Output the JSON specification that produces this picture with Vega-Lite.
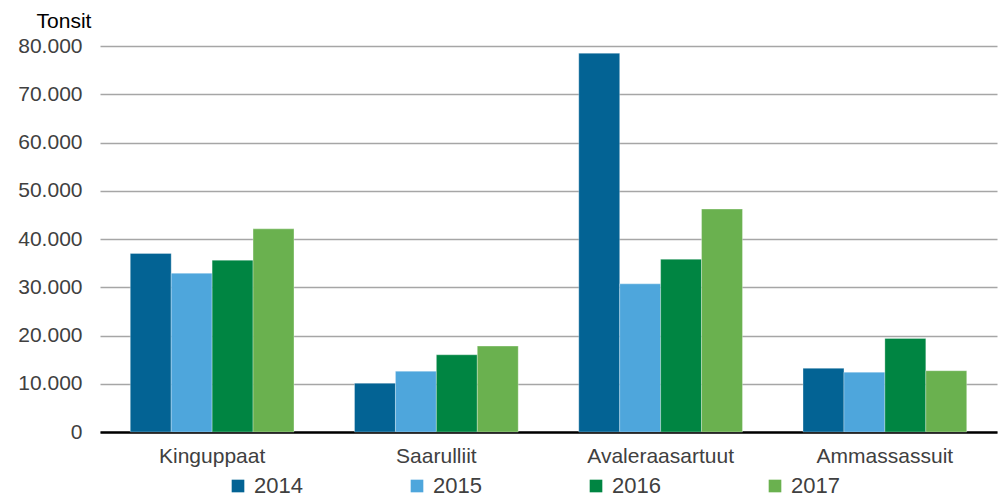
{
  "$schema": "https://vega.github.io/schema/vega-lite/v6.json",
  "width": 897,
  "height": 386,
  "autosize": {"type": "none"},
  "padding": {"left": 100, "top": 46, "right": 5, "bottom": 66},
  "background": "#ffffff",
  "config": {
    "view": {"stroke": null},
    "font": "Liberation Sans"
  },
  "data": {
    "values": [
      {"kategori": "Kinguppaat", "aar": "2014", "tonsit": 37000},
      {"kategori": "Kinguppaat", "aar": "2015", "tonsit": 32900},
      {"kategori": "Kinguppaat", "aar": "2016", "tonsit": 35600},
      {"kategori": "Kinguppaat", "aar": "2017", "tonsit": 42100},
      {"kategori": "Saarulliit", "aar": "2014", "tonsit": 10100},
      {"kategori": "Saarulliit", "aar": "2015", "tonsit": 12600},
      {"kategori": "Saarulliit", "aar": "2016", "tonsit": 16000},
      {"kategori": "Saarulliit", "aar": "2017", "tonsit": 17800},
      {"kategori": "Avaleraasartuut", "aar": "2014", "tonsit": 78500},
      {"kategori": "Avaleraasartuut", "aar": "2015", "tonsit": 30700},
      {"kategori": "Avaleraasartuut", "aar": "2016", "tonsit": 35800},
      {"kategori": "Avaleraasartuut", "aar": "2017", "tonsit": 46200},
      {"kategori": "Ammassassuit", "aar": "2014", "tonsit": 13200},
      {"kategori": "Ammassassuit", "aar": "2015", "tonsit": 12400},
      {"kategori": "Ammassassuit", "aar": "2016", "tonsit": 19400},
      {"kategori": "Ammassassuit", "aar": "2017", "tonsit": 12700}
    ]
  },
  "mark": {"type": "bar", "stroke": "#ffffff", "strokeWidth": 0.6, "strokeOpacity": 0.5},
  "encoding": {
    "x": {
      "field": "kategori",
      "type": "nominal",
      "sort": ["Kinguppaat", "Saarulliit", "Avaleraasartuut", "Ammassassuit"],
      "scale": {"paddingInner": 0.27, "paddingOuter": 0.135},
      "axis": {
        "title": null,
        "labelAngle": 0,
        "labelFontSize": 21,
        "labelColor": "#404040",
        "labelPadding": 13,
        "ticks": false,
        "domainColor": "#000000",
        "domainWidth": 2.5
      }
    },
    "xOffset": {
      "field": "aar",
      "type": "nominal",
      "sort": ["2014", "2015", "2016", "2017"]
    },
    "y": {
      "field": "tonsit",
      "type": "quantitative",
      "scale": {"domain": [0, 80000]},
      "axis": {
        "values": [0, 10000, 20000, 30000, 40000, 50000, 60000, 70000, 80000],
        "labelExpr": "replace(format(datum.value, ','), ',', '.')",
        "labelFontSize": 21,
        "labelColor": "#404040",
        "labelPadding": 18,
        "ticks": false,
        "domain": false,
        "gridColor": "#a6a6a6",
        "gridWidth": 1.5,
        "title": "Tonsit",
        "titleAngle": 0,
        "titleAlign": "center",
        "titleBaseline": "middle",
        "titleX": -36.5,
        "titleY": -24.5,
        "titleFontSize": 21,
        "titleFontWeight": "normal",
        "titleColor": "#000000"
      }
    },
    "color": {
      "field": "aar",
      "type": "nominal",
      "scale": {
        "domain": ["2014", "2015", "2016", "2017"],
        "range": ["#036394", "#4ea6dc", "#008542", "#6ab14f"]
      },
      "legend": {
        "title": null,
        "orient": "none",
        "direction": "horizontal",
        "legendX": 127,
        "legendY": 429,
        "columns": 4,
        "columnPadding": 103,
        "symbolType": "square",
        "symbolSize": 160,
        "symbolStrokeWidth": 0,
        "labelFontSize": 22,
        "labelColor": "#404040",
        "labelOffset": 5
      }
    }
  }
}
